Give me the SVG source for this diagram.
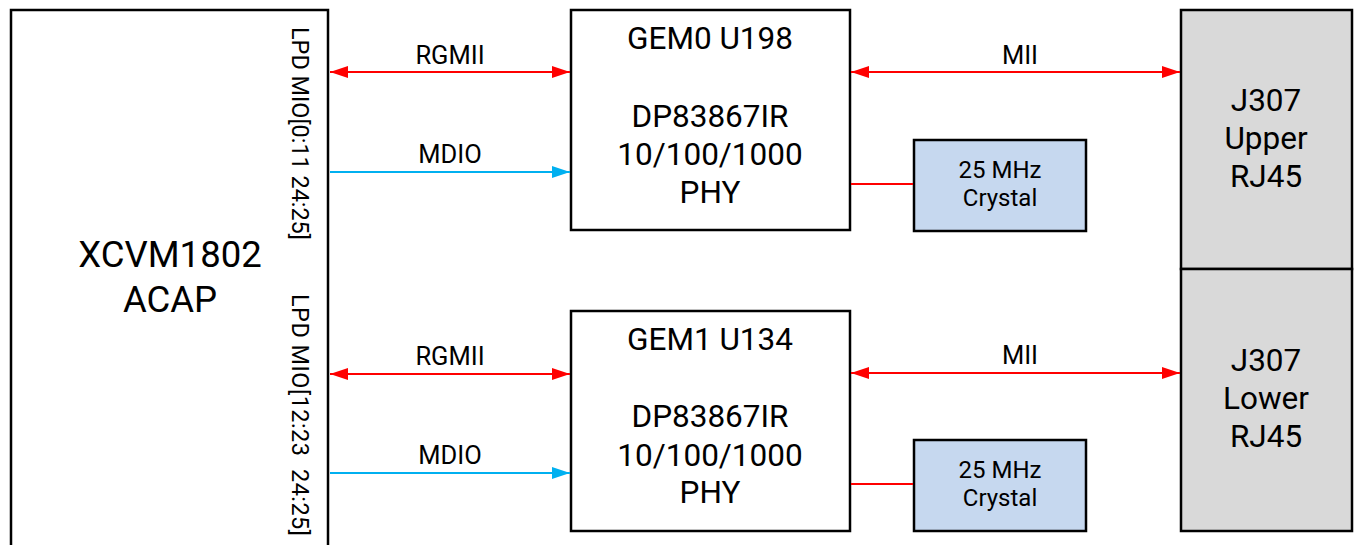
<svg xmlns="http://www.w3.org/2000/svg" width="1357" height="545" viewBox="0 0 1357 545">
<style>
text{font-family:Roboto,"Liberation Sans",sans-serif;fill:#000;text-anchor:middle}
.box{fill:#fff;stroke:#000;stroke-width:2.5}
.xtal{fill:#c6d8ef;stroke:#000;stroke-width:2.5}
.jack{fill:#d9d9d9;stroke:#000;stroke-width:2.5}
.red{stroke:#ff0000;stroke-width:2;fill:none}
.blue{stroke:#00b0f0;stroke-width:2;fill:none}
.lbl{font-size:25.5px}
.big{font-size:36.5px}
.t{font-size:31.5px}
.xt{font-size:24px}
.v{font-size:23.5px;text-anchor:start;white-space:pre}
</style>
<defs>
<marker id="ar" markerUnits="userSpaceOnUse" markerWidth="18" markerHeight="12" refX="18" refY="6" orient="auto-start-reverse" viewBox="0 0 18 12"><path d="M0,0 L18,6 L0,12 Z" fill="#ff0000"/></marker>
<marker id="ab" markerUnits="userSpaceOnUse" markerWidth="18" markerHeight="12" refX="18" refY="6" orient="auto" viewBox="0 0 18 12"><path d="M0,0 L18,6 L0,12 Z" fill="#00b0f0"/></marker>
</defs>
<g id="acap">
<rect class="box" x="11" y="10" width="317" height="560"/>
<text class="big" x="170" y="267">XCVM1802</text>
<text class="big" x="170" y="312">ACAP</text>
<text class="v" transform="translate(292,27) rotate(90)" textLength="213" lengthAdjust="spacing">LPD MIO[0:11 24:25]</text>
<text class="v" transform="translate(292,294) rotate(90)" textLength="242" lengthAdjust="spacing">LPD MIO[12:23  24:25]</text>
</g>
<g id="gem0">
<rect class="box" x="571" y="10" width="279" height="220"/>
<text class="t" x="710" y="49">GEM0 U198</text>
<text class="t" x="710" y="127">DP83867IR</text>
<text class="t" x="710" y="165">10/100/1000</text>
<text class="t" x="710" y="203">PHY</text>
</g>
<g id="gem1">
<rect class="box" x="571" y="311" width="279" height="220"/>
<text class="t" x="710" y="350">GEM1 U134</text>
<text class="t" x="710" y="427">DP83867IR</text>
<text class="t" x="710" y="466">10/100/1000</text>
<text class="t" x="710" y="503">PHY</text>
</g>
<g id="xtal0">
<rect class="xtal" x="914" y="140" width="172" height="91"/>
<text class="xt" x="1000" y="178">25 MHz</text>
<text class="xt" x="1000" y="206">Crystal</text>
</g>
<g id="xtal1">
<rect class="xtal" x="914" y="440" width="172" height="91"/>
<text class="xt" x="1000" y="478">25 MHz</text>
<text class="xt" x="1000" y="506">Crystal</text>
</g>
<g id="j307u">
<rect class="jack" x="1181" y="10" width="171" height="259"/>
<text class="t" x="1266" y="111">J307</text>
<text class="t" x="1266" y="149">Upper</text>
<text class="t" x="1266" y="187">RJ45</text>
</g>
<g id="j307l">
<rect class="jack" x="1181" y="269" width="171" height="262"/>
<text class="t" x="1266" y="371">J307</text>
<text class="t" x="1266" y="409">Lower</text>
<text class="t" x="1266" y="447">RJ45</text>
</g>
<g id="connectors">
<line class="red" x1="330" y1="72" x2="570" y2="72" marker-start="url(#ar)" marker-end="url(#ar)"/>
<line class="blue" x1="330" y1="172" x2="570" y2="172" marker-end="url(#ab)"/>
<line class="red" x1="851" y1="72" x2="1180" y2="72" marker-start="url(#ar)" marker-end="url(#ar)"/>
<line class="red" x1="851" y1="184" x2="913" y2="184"/>
<line class="red" x1="330" y1="374" x2="570" y2="374" marker-start="url(#ar)" marker-end="url(#ar)"/>
<line class="blue" x1="330" y1="473" x2="570" y2="473" marker-end="url(#ab)"/>
<line class="red" x1="851" y1="373" x2="1180" y2="373" marker-start="url(#ar)" marker-end="url(#ar)"/>
<line class="red" x1="851" y1="484" x2="913" y2="484"/>
<text class="lbl" x="450" y="64">RGMII</text>
<text class="lbl" x="450" y="163">MDIO</text>
<text class="lbl" x="1020" y="64">MII</text>
<text class="lbl" x="450" y="365">RGMII</text>
<text class="lbl" x="450" y="464">MDIO</text>
<text class="lbl" x="1020" y="364">MII</text>
</g>
</svg>
